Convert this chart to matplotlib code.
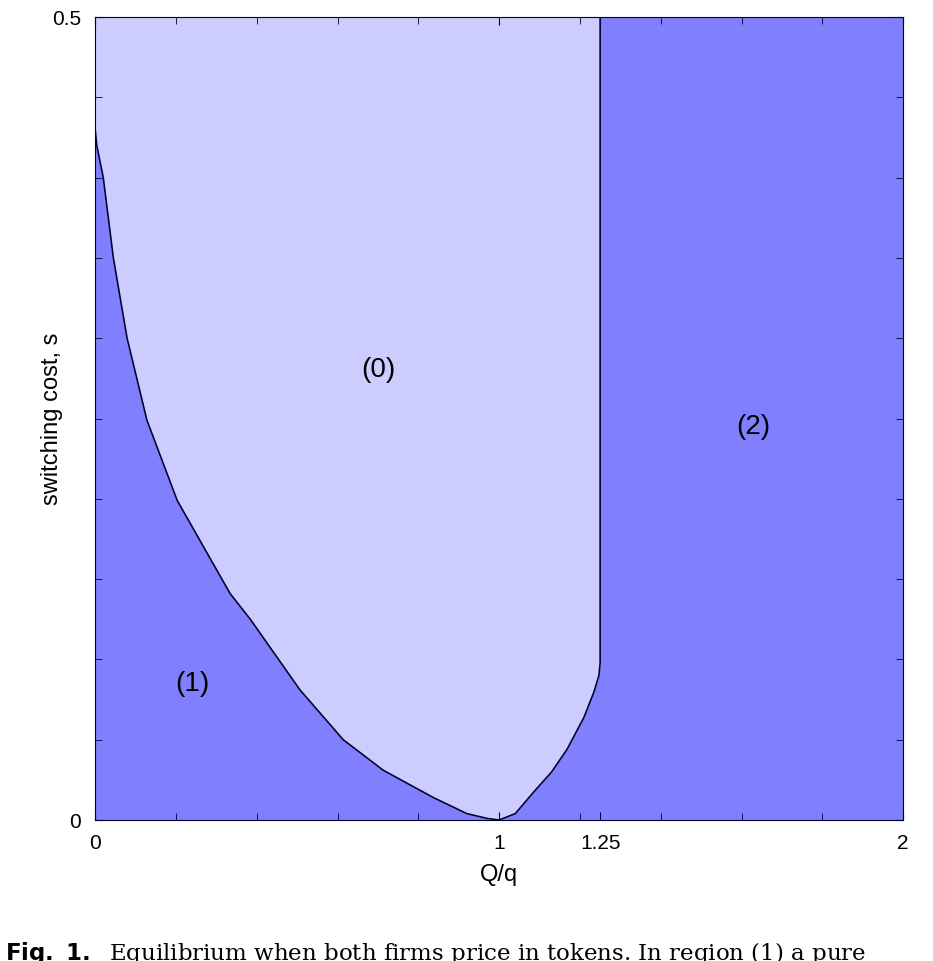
import matplotlib
matplotlib.use("Agg")
import matplotlib.pyplot as plt
import numpy as np

# boundary of region (0): left branch then right branch
left_x = [0.0, 0.0, 0.004, 0.02, 0.045, 0.079, 0.128, 0.203, 0.334, 0.384, 0.507, 0.614, 0.713, 0.837, 0.92, 0.97, 1.0]
left_s = [0.5, 0.43, 0.42, 0.40, 0.35, 0.30, 0.249, 0.199, 0.141, 0.125, 0.081, 0.050, 0.031, 0.014, 0.004, 0.001, 0.0]
right_x = [1.0, 1.04, 1.084, 1.13, 1.168, 1.21, 1.235, 1.247, 1.25, 1.25]
right_s = [0.0, 0.004, 0.017, 0.030, 0.044, 0.064, 0.080, 0.090, 0.098, 0.5]

region_labels = ["(0)", "(1)", "(2)"]
label_x = [0.7, 0.24, 1.63]
label_y = [0.28, 0.085, 0.245]

fig = plt.figure(figsize=(9.33, 9.61), dpi=100)
ax = fig.add_axes([0.102, 0.1467, 0.866, 0.8356])
ax.set_facecolor("#8080ff")
px = left_x + right_x[1:]
py = left_s + right_s[1:]
ax.fill(px, py, color="#ccccff", zorder=1)
ax.plot(left_x, left_s, color="#000033", lw=1.2, zorder=2)
ax.plot(right_x, right_s, color="#000033", lw=1.2, zorder=2)

for t, x, y in zip(region_labels, label_x, label_y):
    ax.text(x, y, t, fontsize=20, ha="center", va="center", family="Liberation Sans")

ax.set_xlim(0, 2)
ax.set_ylim(0, 0.5)
ax.set_xticks([0, 1, 1.25, 2])
ax.set_xticklabels(["0", "1", "1.25", "2"])
ax.set_yticks([0, 0.5])
ax.set_yticklabels(["0", "0.5"])
ax.set_xticks(np.arange(0.2, 2.0, 0.2), minor=True)
ax.set_yticks(np.arange(0.05, 0.5, 0.05), minor=True)
ax.tick_params(which="both", direction="in", top=True, right=True, color="#000033")
ax.tick_params(which="major", length=6, labelsize=15, pad=10)
ax.tick_params(which="minor", length=5)
for lab in ax.get_xticklabels() + ax.get_yticklabels():
    lab.set_family("Liberation Sans")
ax.set_xlabel("Q/q", fontsize=17, family="Liberation Sans", labelpad=8)
ax.set_ylabel("switching cost, s", fontsize=17, family="Liberation Sans", labelpad=-8)
for sp in ax.spines.values():
    sp.set_color("#000033")

fig.text(0.005, 0.008, r"$\bf{Fig.\ 1.}$  Equilibrium when both firms price in tokens. In region (1) a pure",
         fontsize=16.5, family="DejaVu Serif", va="center", ha="left")
fig.savefig("out.png", dpi=100)
